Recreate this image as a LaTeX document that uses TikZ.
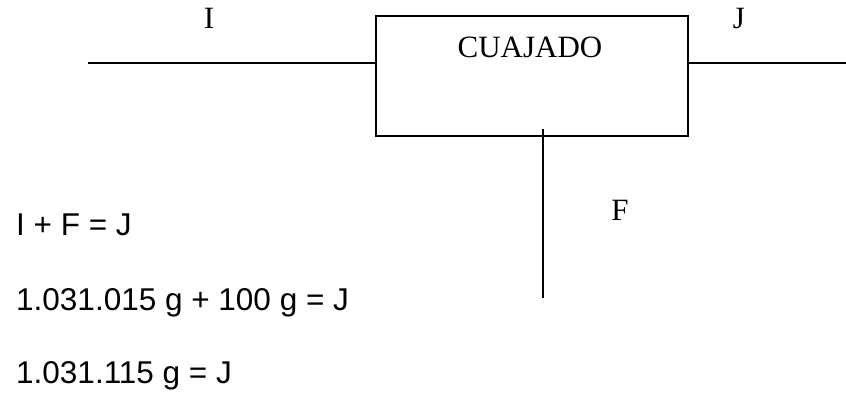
\documentclass[tikz,border=0pt]{standalone}
\usepackage{fontspec}
\setmainfont{Liberation Serif}
\newfontfamily\eqfont{Liberation Sans}
\usetikzlibrary{positioning}
\tikzset{
etapa/.style={draw, line width=1.8pt, minimum width=312pt, minimum height=120pt, inner sep=0pt},
flujo/.style={line width=1.8pt},
rotulo/.style={font=\fontsize{31}{33}\selectfont, anchor=base, inner sep=0pt},
ecuacion/.style={font=\eqfont\fontsize{31.5}{33}\selectfont, anchor=base west, inner sep=0pt}
}

\begin{document}
\begin{tikzpicture}[x=1pt,y=-1pt]
\useasboundingbox (0,0) rectangle (846,396);
% etapa de cuajado
\node[etapa] (cuajado) at (532,76) {};
\node[rotulo] (nombre) at (530,58) {CUAJADO};
% corrientes
\coordinate (entrada) at (88,63);
\coordinate (salida) at (846,63);
\coordinate (fermento) at (543,298);
\coordinate (arriba) at (543,129);
\draw[flujo] (entrada) -- (entrada -| cuajado.west);
\draw[flujo] (salida -| cuajado.east) -- (salida);
\draw[flujo] (arriba) -- (fermento);
\node[rotulo] (I) at (209,29) {I};
\node[rotulo] (J) at (739,29) {J};
\node[rotulo] (F) at (620,220) {F};
% balance
\node[ecuacion] (eq1) at (16,235) {I + F = J};
\node[ecuacion] (eq2) at (16,310) {1.031.015 g + 100 g = J};
\node[ecuacion] (eq3) at (16,383) {1.031.115 g = J};
\end{tikzpicture}
\end{document}
